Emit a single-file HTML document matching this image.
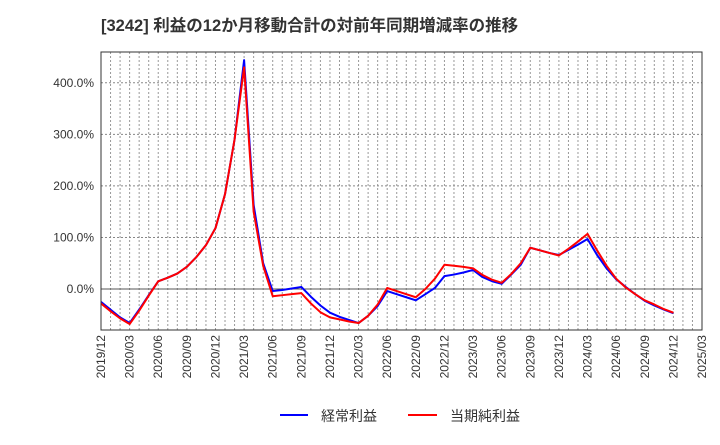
<!DOCTYPE html>
<html><head><meta charset="utf-8">
<style>
html,body{margin:0;padding:0;background:#fff;}
body{width:720px;height:440px;overflow:hidden;font-family:"Liberation Sans","Noto Sans CJK JP",sans-serif;}
</style></head>
<body>
<svg id="chart" width="720" height="440" xmlns="http://www.w3.org/2000/svg" font-family="Liberation Sans, Noto Sans CJK JP, sans-serif">
<text x="101" y="31" font-size="16.5" font-weight="bold" fill="#333">[3242]  利益の12か月移動合計の対前年同期増減率の推移</text>
<g id="grid"></g>
<g id="yaxis"></g>
<g id="xaxis"></g>
<g id="series"></g>
<rect x="101" y="52" width="601" height="278" fill="none" stroke="#333" stroke-width="1"/>
<g>
<line x1="280" y1="415" x2="308" y2="415" stroke="#0000ff" stroke-width="2"/>
<text x="321" y="421" font-size="14" fill="#333">経常利益</text>
<line x1="408" y1="415" x2="437" y2="415" stroke="#ff0000" stroke-width="2"/>
<text x="450" y="421" font-size="14" fill="#333">当期純利益</text>
</g>
</svg>
<script>
const yTicks = [0, 100, 200, 300, 400];
const xTickLabels = ["2019/12","2020/03","2020/06","2020/09","2020/12","2021/03","2021/06","2021/09","2021/12","2022/03","2022/06","2022/09","2022/12","2023/03","2023/06","2023/09","2023/12","2024/03","2024/06","2024/09","2024/12","2025/03"];
// monthly values from 2019/12 to 2024/12 (%)
const keijo = [-25,-40,-55,-66,-40,-12,15,22,30,43,62,85,118,184,290,444,163,50,-4,-2,1,4,-15,-32,-46,-54,-60,-66,-52,-33,-4,-10,-16,-22,-10,2,25,28,32,37,23,15,10,28,47,80,75,70,66,76,86,97,66,40,19,4,-10,-23,-32,-40,-47];
const junri = [-28,-43,-57,-68,-42,-13,15,22,30,43,62,85,118,184,290,430,150,45,-14,-12,-10,-8,-28,-45,-55,-59,-63,-66,-52,-30,2,-4,-10,-16,0,20,47,45,43,40,27,18,12,29,50,80,75,70,65,78,92,107,75,45,20,3,-10,-22,-30,-39,-46];

const X0=101, X1=702, Y0=289, PX=0.5155, NM=63;
const xs = i => X0 + i*(X1-X0)/NM;
const ys = v => Y0 - v*PX;
const NS="http://www.w3.org/2000/svg";
function mk(tag, attrs, parent){const e=document.createElementNS(NS,tag);for(const k in attrs)e.setAttribute(k,attrs[k]);parent.appendChild(e);return e;}
const grid=document.getElementById('grid'), ya=document.getElementById('yaxis'), xa=document.getElementById('xaxis'), se=document.getElementById('series');
for(let i=1;i<NM;i++){
  const l=mk('line',{x1:xs(i),x2:xs(i),y1:52,y2:330,stroke:'#999','stroke-width':1,'stroke-dasharray':'2,2'},grid);
  
  
}
yTicks.forEach(v=>{
  const l=mk('line',{x1:101,x2:702,y1:ys(v),y2:ys(v),stroke:v===0?'#555':'#888','stroke-width':1,'stroke-dasharray':v===0?'':'2,2'},grid);
  
  
  const t=mk('text',{x:94,y:ys(v)+4,'font-size':12,fill:'#333','text-anchor':'end'},ya);
  t.textContent=v.toFixed(1)+'%';
  
  
});
xTickLabels.forEach((s,i)=>{
  const x=xs(i*3);
  const t=mk('text',{x:0,y:0,'font-size':12,fill:'#333','text-anchor':'end',transform:`translate(${x+4},335) rotate(-90)`},xa);
  t.textContent=s;
  
  
});
function series(data,color,name){
  const p=mk('polyline',{points:data.map((v,i)=>xs(i)+','+ys(v)).join(' '),fill:'none',stroke:color,'stroke-width':2,'stroke-linejoin':'round'},se);
  
  
}
series(keijo,'#0000ff','line-keijo');
series(junri,'#ff0000','line-junri');
</script>
</body></html>
